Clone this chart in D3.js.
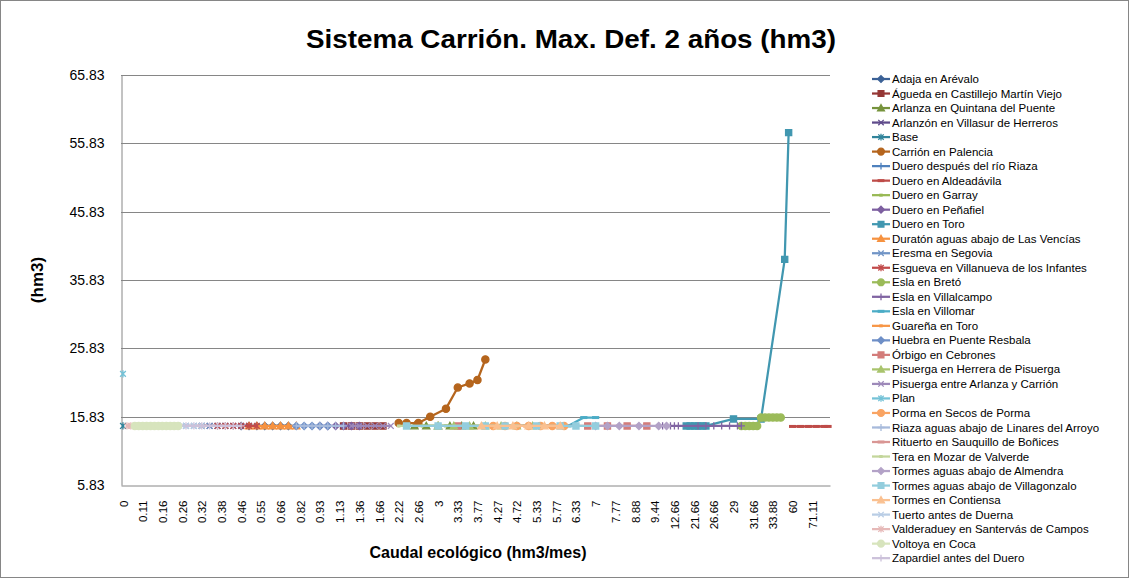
<!DOCTYPE html>
<html><head><meta charset="utf-8">
<script src="https://cdn.jsdelivr.net/npm/d3@7"></script>
<style>
body{margin:0;background:#fff}
svg{display:block}
text{font-family:'Liberation Sans',Arial,sans-serif;fill:#000}
</style>
</head><body>
<svg id="chart" width="1129" height="578"></svg>
<script>
// ---------- data ----------
const tickLabels = ["0","0.11","0.16","0.26","0.32","0.38","0.46","0.55","0.66","0.82","0.93","1.13",
  "1.36","1.66","2.22","2.66","3","3.33","3.77","4.27","4.72","5.33","5.77","6.33","7","7.77","8.88",
  "9.44","12.66","21.66","26.66","29","31.66","33.88","60","71.11"];
const categoryCount = 180;      // categories on the axis
const labelEvery = 5;           // a label is shown on every 5th category
const yTicks = [5.83,15.83,25.83,35.83,45.83,55.83,65.83];

const seriesNames = ["Adaja en Arévalo","Águeda en Castillejo Martín Viejo","Arlanza en Quintana del Puente",
 "Arlanzón en Villasur de Herreros","Base","Carrión en Palencia","Duero después del río Riaza",
 "Duero en Aldeadávila","Duero en Garray","Duero en Peñafiel","Duero en Toro",
 "Duratón aguas abajo de Las Vencías","Eresma en Segovia","Esgueva en Villanueva de los Infantes",
 "Esla en Bretó","Esla en Villalcampo","Esla en Villomar","Guareña en Toro","Huebra en Puente Resbala",
 "Órbigo en Cebrones","Pisuerga en Herrera de Pisuerga","Pisuerga entre Arlanza y Carrión","Plan",
 "Porma en Secos de Porma","Riaza aguas abajo de Linares del Arroyo","Rituerto en Sauquillo de Boñices",
 "Tera en Mozar de Valverde","Tormes aguas abajo de Almendra","Tormes aguas abajo de Villagonzalo",
 "Tormes en Contiensa","Tuerto antes de Duerna","Valderaduey en Santervás de Campos","Voltoya en Coca",
 "Zapardiel antes del Duero"];

// [category index, hm3]
const adaja       = [[30,14.47],[32,14.47],[34,14.47],[36,14.47],[38,14.47],[40,14.47],[42,14.47]];
const agueda      = [[56,14.47],[58,14.47],[60,14.47],[62,14.47],[64,14.47],[66,14.47]];
const arlanza     = [[74,14.47],[77,14.47],[80,14.47],[83,14.47],[86,14.47],[89,14.47]];
const arlanzon    = [[20,14.47],[22,14.47],[24,14.47],[26,14.47],[28,14.47],[30,14.47],[32,14.47]];
const base        = [[0,14.47]];
const carrion     = [[70,14.9],[72,14.9],[75,14.9],[78,15.83],[82,17.0],[85,20.1],[88,20.7],[90,21.2],[92,24.2]];
const dueroRiaza  = [[38,14.47],[40,14.47],[42,14.47],[44,14.47],[46,14.47],[48,14.47],[50,14.47]];
const aldeadavila = [[170,14.4],[172,14.4],[174,14.4],[176,14.4],[178,14.4],[179,14.4]];
const garray      = [[76,14.47],[82,14.47],[88,14.47],[94,14.47],[100,14.47]];
const penafiel    = [[50,14.47],[52,14.47],[54,14.47],[56,14.47],[58,14.47],[60,14.47]];
const toro        = [[143,14.47],[144,14.47],[145,14.47],[146,14.47],[147,14.47],[148,14.47],[155,15.5],[162,15.5],[168,38.85],[169,57.4]];
const duraton     = [[32,14.47],[34,14.47],[36,14.47],[38,14.47],[40,14.47],[42,14.47],[44,14.47]];
const eresma      = [[14,14.47],[16,14.47],[18,14.47],[20,14.47],[22,14.47],[24,14.47],[26,14.47]];
const esgueva     = [[24,14.47],[26,14.47],[28,14.47],[30,14.47],[32,14.47],[34,14.47]];
const breto       = [[157,14.47],[158,14.47],[159,14.47],[160,14.47],[161,14.47],[162,15.7],[163,15.7],[164,15.7],[165,15.7],[166,15.7],[167,15.7]];
const villalcampo = [[136,14.47],[137,14.47],[138,14.47],[139,14.47],[140,14.47],[141,14.47],[146,14.47],[148,14.47],[150,14.47],[152,14.47],[154,14.47],[156,14.47],[157,14.47]];
const villomar    = [[100,14.47],[113,14.47],[117,15.7],[120,15.7]];
const guarena     = [[96,14.47],[102,14.47],[108,14.47]];
const huebra      = [[44,14.47],[46,14.47],[48,14.47],[50,14.47],[52,14.47]];
const orbigo      = [[85,14.47],[118,14.47],[123,14.47],[128,14.47],[133,14.47]];
const pisHerrera  = [[80,14.47],[84,14.47],[88,14.47],[92,14.47],[96,14.47],[100,14.47],[104,14.47]];
const pisEntre    = [[58,14.47],[60,14.47],[62,14.47],[64,14.47],[66,14.47],[68,14.47]];
const plan        = [[0,22.1]];
const porma       = [[94,14.47],[97,14.47],[100,14.47],[103,14.47],[106,14.47],[109,14.47],[112,14.47]];
const riaza       = [[44,14.47],[46,14.47],[48,14.47],[50,14.47],[52,14.47],[54,14.47],[56,14.47]];
const rituerto    = [[14,14.47],[20,14.47],[26,14.47]];
const tera        = [[70,14.47],[80,14.47],[90,14.47],[100,14.47]];
const almendra    = [[120,14.47],[123,14.47],[126,14.47],[131,14.47],[136,14.47],[138,14.47]];
const villagonzalo= [[72,14.47],[80,14.47],[87,14.47],[92,14.47],[97,14.47],[105,14.47],[111,14.47],[115,14.47],[120,14.47]];
const contiensa   = [[91,14.47],[95,14.47],[99,14.47],[103,14.47],[107,14.47],[111,14.47]];
const tuerto      = [[14,14.47],[16,14.47],[18,14.47],[20,14.47]];
const valderaduey = [[1,14.47],[2,14.47],[3,14.47]];
const voltoya     = [[3,14.47],[4,14.47],[5,14.47],[6,14.47],[7,14.47],[8,14.47],[9,14.47],[10,14.47],[11,14.47],[12,14.47],[13,14.47],[14,14.47]];
const zapardiel   = [[16,14.47],[18,14.47],[20,14.47],[22,14.47],[24,14.47],[26,14.47],[28,14.47],[30,14.47]];

const seriesData = [adaja,agueda,arlanza,arlanzon,base,carrion,dueroRiaza,aldeadavila,garray,penafiel,toro,
  duraton,eresma,esgueva,breto,villalcampo,villomar,guarena,huebra,orbigo,pisHerrera,pisEntre,plan,porma,
  riaza,rituerto,tera,almendra,villagonzalo,contiensa,tuerto,valderaduey,voltoya,zapardiel];

// ---------- styles ----------
const seriesColors = ["#3B6196","#953735","#76933C","#5F4B8B","#31849B","#B5651D","#4F81BD","#BE4B48",
  "#98B954","#7D5FA0","#4197B0","#F69240","#7094C6","#C24B4B","#9BBB59","#8064A2","#4BACC6","#F79646",
  "#6E8FC7","#D37C7A","#A9C46D","#9D89B9","#74C2D7","#F9A463","#A7BADB","#D99694","#C3D69B","#B3A2C7",
  "#93CDDD","#FAC090","#B9CDE5","#E6B9B8","#D7E4BD","#CCC1DA"];
const markerCycle = ["diamond","square","triangle","x","star","circle","plus","dash","shortdash"];

function markerPath(t, s){
  switch(t){
    case "diamond": return `M0,${-s}L${s},0L0,${s}L${-s},0Z`;
    case "square": return `M${-s*0.85},${-s*0.85}h${1.7*s}v${1.7*s}h${-1.7*s}Z`;
    case "triangle": return `M0,${-s}L${s},${s*0.8}L${-s},${s*0.8}Z`;
    case "circle": return d3.symbol(d3.symbolCircle, Math.PI*s*s)();
    case "x": return `M${-s*0.8},${-s*0.8}L${s*0.8},${s*0.8}M${-s*0.8},${s*0.8}L${s*0.8},${-s*0.8}`;
    case "star": return `M${-s*0.8},${-s*0.8}L${s*0.8},${s*0.8}M${-s*0.8},${s*0.8}L${s*0.8},${-s*0.8}M0,${-s}L0,${s}`;
    case "plus": return `M${-s},0L${s},0M0,${-s}L0,${s}`;
    case "dash": return `M${-s},0L${s},0`;
    case "shortdash": return `M${-s*0.5},0L${s*0.5},0`;
  }
}
const filled = t => ["diamond","square","triangle","circle"].includes(t);

// ---------- layout ----------
const svg = d3.select("#chart");
const plot = {left:121, right:830, top:75, bottom:485};

const x = d3.scaleLinear().domain([-0.5, categoryCount-0.5]).range([plot.left, plot.right]);
const y = d3.scaleLinear().domain([5.83, 65.83]).range([plot.bottom, plot.top]);

// chart border
svg.append("rect").attr("x",0.5).attr("y",0.5).attr("width",1128).attr("height",577)
  .attr("fill","none").attr("stroke","#868686").attr("stroke-width",1);

// gridlines
svg.append("g").selectAll("line").data(yTicks.slice(1)).join("line")
  .attr("x1",plot.left).attr("x2",plot.right)
  .attr("y1",d=>Math.round(y(d))+0.5).attr("y2",d=>Math.round(y(d))+0.5)
  .attr("stroke","#868686").attr("stroke-width",1);

// axes
const yAxis = d3.axisLeft(y).tickValues(yTicks).tickSize(0).tickPadding(17).tickFormat(d=>d.toFixed(2));
const gy = svg.append("g").attr("transform",`translate(${plot.left+0.5},0)`).call(yAxis);
gy.select(".domain").attr("stroke","#868686");
gy.selectAll("text").style("font-size","14px").attr("fill","#000");

const xTickIdx = tickLabels.map((_,i)=>i*labelEvery);
const xAxis = d3.axisBottom(x).tickValues(xTickIdx).tickSize(0).tickFormat((d,i)=>tickLabels[i]);
const gx = svg.append("g").attr("transform",`translate(0,${plot.bottom+0.5})`).call(xAxis);
gx.select(".domain").attr("stroke","#868686");
gx.selectAll("text").style("font-size","11.5px").attr("fill","#000")
  .attr("text-anchor","end").attr("transform","rotate(-90)").attr("x",-15).attr("y",0).attr("dy","0.35em");

// titles
svg.append("text").attr("x",571).attr("y",48).attr("text-anchor","middle")
  .style("font-size","26px").style("font-weight","bold")
  .attr("textLength",530).attr("lengthAdjust","spacingAndGlyphs")
  .text("Sistema Carrión. Max. Def. 2 años (hm3)");
svg.append("text").attr("x",478).attr("y",558).attr("text-anchor","middle")
  .style("font-size","16px").style("font-weight","bold").text("Caudal ecológico (hm3/mes)");
svg.append("text").attr("transform","translate(43,280) rotate(-90)").attr("text-anchor","middle")
  .style("font-size","17px").style("font-weight","bold").text("(hm3)");

// series
const line = d3.line().x(d=>x(d[0])).y(d=>y(d[1]));
const gs = svg.append("g");
seriesData.forEach((data,i)=>{
  const col = seriesColors[i], mk = markerCycle[i % markerCycle.length];
  const g = gs.append("g");
  if (data.length>1) g.append("path").attr("d",line(data)).attr("fill","none")
      .attr("stroke",col).attr("stroke-width",2.25).attr("stroke-linejoin","round");
  g.selectAll("path.m").data(data).join("path").attr("class","m")
    .attr("transform",d=>`translate(${x(d[0])},${y(d[1])})`)
    .attr("d",markerPath(mk,3.6))
    .attr("fill",filled(mk)?col:"none").attr("stroke",col)
    .attr("stroke-width",mk==="dash"||mk==="shortdash"?3:1.3);
});

// legend
const lg = svg.append("g");
seriesNames.forEach((name,i)=>{
  const yy = 79 + i*14.52, col = seriesColors[i], mk = markerCycle[i % markerCycle.length];
  lg.append("line").attr("x1",872).attr("x2",890).attr("y1",yy).attr("y2",yy)
    .attr("stroke",col).attr("stroke-width",2.25);
  lg.append("path").attr("transform",`translate(881,${yy})`).attr("d",markerPath(mk,3.4))
    .attr("fill",filled(mk)?col:"none").attr("stroke",col)
    .attr("stroke-width",mk==="dash"||mk==="shortdash"?3:1.3);
  lg.append("text").attr("x",892).attr("y",yy).attr("dy","0.35em")
    .style("font-size","11.5px").text(name);
});
</script>
</body></html>
